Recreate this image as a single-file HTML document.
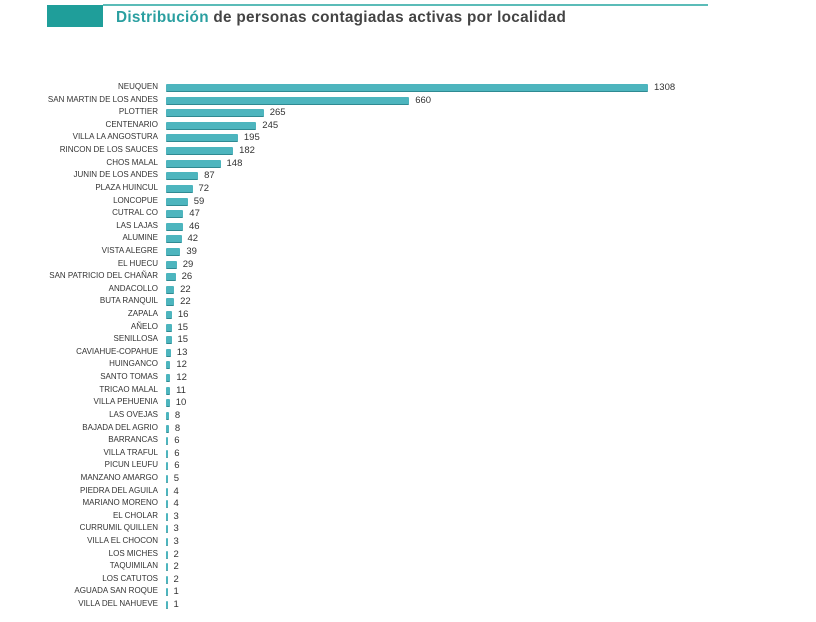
<!DOCTYPE html><html><head><style>
body{margin:0;width:816px;height:622px;background:#fff;position:relative;overflow:hidden;font-family:"Liberation Sans",sans-serif}
.blk{position:absolute;left:47px;top:5px;width:56px;height:22px;background:#1f9e9a}
.ln{position:absolute;left:103px;top:4px;width:605px;height:2px;background:#5bbcb8}
.t{position:absolute;left:116px;top:9px;font-size:15.3px;font-weight:bold;color:#444;letter-spacing:0.3px}
.t span{color:#2a9fa0}
.r{position:absolute;height:12px;left:0;width:816px;font-size:8px;color:#333}
.l{position:absolute;right:658px;top:0;white-space:nowrap;line-height:12px}
.b{position:absolute;left:166px;top:3px;height:7px;background:#4db5be;border-bottom:1px solid #2f8a92;border-radius:1px}
.v{position:absolute;top:1px;line-height:12px;font-size:9.5px}
</style></head><body>
<div class="blk"></div><div class="ln"></div>
<div class="t"><span>Distribución</span> de personas contagiadas activas por localidad</div>
<div id="c"></div>
<script>
var d=[["NEUQUEN",1308],["SAN MARTIN DE LOS ANDES",660],["PLOTTIER",265],["CENTENARIO",245],["VILLA LA ANGOSTURA",195],["RINCON DE LOS SAUCES",182],["CHOS MALAL",148],["JUNIN DE LOS ANDES",87],["PLAZA HUINCUL",72],["LONCOPUE",59],["CUTRAL CO",47],["LAS LAJAS",46],["ALUMINE",42],["VISTA ALEGRE",39],["EL HUECU",29],["SAN PATRICIO DEL CHAÑAR",26],["ANDACOLLO",22],["BUTA RANQUIL",22],["ZAPALA",16],["AÑELO",15],["SENILLOSA",15],["CAVIAHUE-COPAHUE",13],["HUINGANCO",12],["SANTO TOMAS",12],["TRICAO MALAL",11],["VILLA PEHUENIA",10],["LAS OVEJAS",8],["BAJADA DEL AGRIO",8],["BARRANCAS",6],["VILLA TRAFUL",6],["PICUN LEUFU",6],["MANZANO AMARGO",5],["PIEDRA DEL AGUILA",4],["MARIANO MORENO",4],["EL CHOLAR",3],["CURRUMIL QUILLEN",3],["VILLA EL CHOCON",3],["LOS MICHES",2],["TAQUIMILAN",2],["LOS CATUTOS",2],["AGUADA SAN ROQUE",1],["VILLA DEL NAHUEVE",1]];
var h="";d.forEach(function(e,i){var y=81+i*12.61,w=Math.max(1.5,e[1]*0.3685);
h+='<div class="r" style="top:'+y.toFixed(1)+'px"><div class="l">'+e[0]+'</div><div class="b" style="width:'+w.toFixed(1)+'px"></div><div class="v" style="left:'+(166+w+6).toFixed(1)+'px">'+e[1]+'</div></div>';});
document.getElementById("c").innerHTML=h;
</script>
</body></html>
